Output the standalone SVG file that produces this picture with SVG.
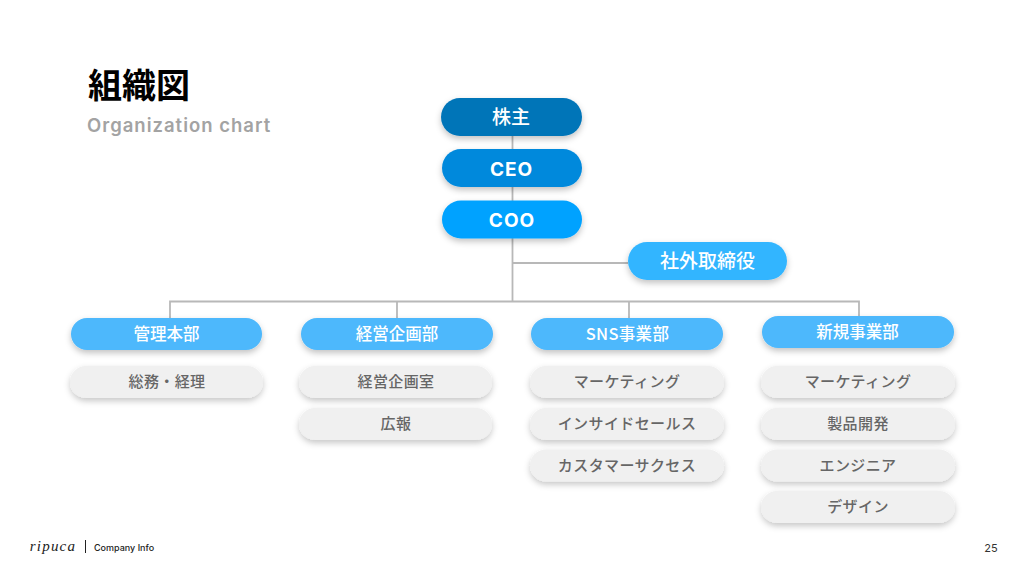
<svg xmlns="http://www.w3.org/2000/svg" width="1024" height="576" viewBox="0 0 1024 576">
<defs>
<filter id="sh" x="-10%" y="-30%" width="120%" height="170%"><feDropShadow dx="0" dy="3" stdDeviation="3" flood-color="#000" flood-opacity="0.24"/></filter>
<filter id="shg" x="-10%" y="-30%" width="120%" height="170%"><feDropShadow dx="0" dy="3" stdDeviation="3" flood-color="#000" flood-opacity="0.22"/></filter>
</defs>
<style>
text{font-family:"Noto Sans CJK JP","Noto Sans",sans-serif;text-anchor:middle}
.n rect{filter:url(#sh)}
.g rect{fill:#f0f0f0;filter:url(#shg)}
.g text{font-size:15px;font-weight:500;fill:#666;letter-spacing:.4px}
.d rect{fill:#4db8fc}
.d text{font-size:16.500px}
.w{font-size:19px;font-weight:500;fill:#fff}
.m{font-family:"Inter","Open Sans",sans-serif;font-weight:700;font-size:19px;letter-spacing:1px;fill:#fff}
#connectors path{fill:none;stroke:#b8b8b8;stroke-width:1.800}
</style>
<rect width="1024" height="576" fill="#fff"/>
<text x="88" y="98" style="text-anchor:start;font-size:34px;font-weight:700" fill="#000">組織図</text>
<text x="87" y="132" style="text-anchor:start;font-family:Inter,'Open Sans',sans-serif;font-size:18.500px;font-weight:600;letter-spacing:1px" fill="#a3a3a3">Organization chart</text>
<g id="connectors">
<path d="M512.500 136V301M513 263H628M170 318V301.500H859V316M397 301.500V318M629 301.500V318"/>
</g>
<g id="n-shareholder" class="n"><rect x="441" y="98" width="141" height="38" rx="19" fill="#0074b8"/><text class="w" x="511" y="124">株主</text></g>
<g id="n-ceo" class="n"><rect x="442" y="149" width="140" height="38" rx="19" fill="#0089dc"/><text class="m" x="511.500" y="175.500">CEO</text></g>
<g id="n-coo" class="n"><rect x="442" y="200.500" width="140" height="38" rx="19" fill="#00a2ff"/><text class="m" x="512" y="226.500">COO</text></g>
<g id="n-director" class="n"><rect x="628" y="242" width="159" height="38" rx="19" fill="#33b5ff"/><text class="w" x="707.500" y="268">社外取締役</text></g>
<g id="d-admin" class="n d"><rect x="71" y="318" width="191" height="32" rx="16"/><text class="w" x="166.500" y="340">管理本部</text></g>
<g id="d-plan" class="n d"><rect x="301" y="318" width="192" height="32" rx="16"/><text class="w" x="397" y="340">経営企画部</text></g>
<g id="d-sns" class="n d"><rect x="531" y="318" width="192" height="32" rx="16"/><text class="w" x="627.500" y="340" style="letter-spacing:.3px">SNS事業部</text></g>
<g id="d-new" class="n d"><rect x="762" y="316" width="192" height="32" rx="16"/><text class="w" x="857.500" y="338">新規事業部</text></g>
<g id="g-1" class="g"><rect x="70" y="366" width="193" height="32" rx="16"/><text x="167" y="387">総務・経理</text></g>
<g id="g-2" class="g"><rect x="299" y="366" width="193" height="32" rx="16"/><text x="396" y="387">経営企画室</text></g>
<g id="g-3" class="g"><rect x="299" y="408" width="193" height="32" rx="16"/><text x="396" y="429">広報</text></g>
<g id="g-4" class="g"><rect x="530" y="366" width="194" height="32" rx="16"/><text x="627" y="387">マーケティング</text></g>
<g id="g-5" class="g"><rect x="530" y="408" width="194" height="32" rx="16"/><text x="627" y="429">インサイドセールス</text></g>
<g id="g-6" class="g"><rect x="530" y="449.500" width="194" height="32" rx="16"/><text x="627" y="470.500">カスタマーサクセス</text></g>
<g id="g-7" class="g"><rect x="761" y="366" width="194" height="32" rx="16"/><text x="858" y="387">マーケティング</text></g>
<g id="g-8" class="g"><rect x="761" y="408" width="194" height="32" rx="16"/><text x="858" y="429">製品開発</text></g>
<g id="g-9" class="g"><rect x="761" y="449.500" width="194" height="32" rx="16"/><text x="858" y="470.500">エンジニア</text></g>
<g id="g-10" class="g"><rect x="761" y="491" width="194" height="32" rx="16"/><text x="858" y="512">デザイン</text></g>
<text x="53" y="551" style="font-family:'Liberation Serif',serif;font-style:italic;font-size:15px;letter-spacing:1.200px" fill="#222">ripuca</text>
<path d="M85.500 540V553" stroke="#222" stroke-width="1" fill="none"/>
<text x="94" y="551" style="text-anchor:start;font-family:Inter,sans-serif;font-size:9px;font-weight:500" fill="#222">Company Info</text>
<text x="991" y="552" style="font-family:Inter,sans-serif;font-size:11px" fill="#333">25</text>
</svg>
